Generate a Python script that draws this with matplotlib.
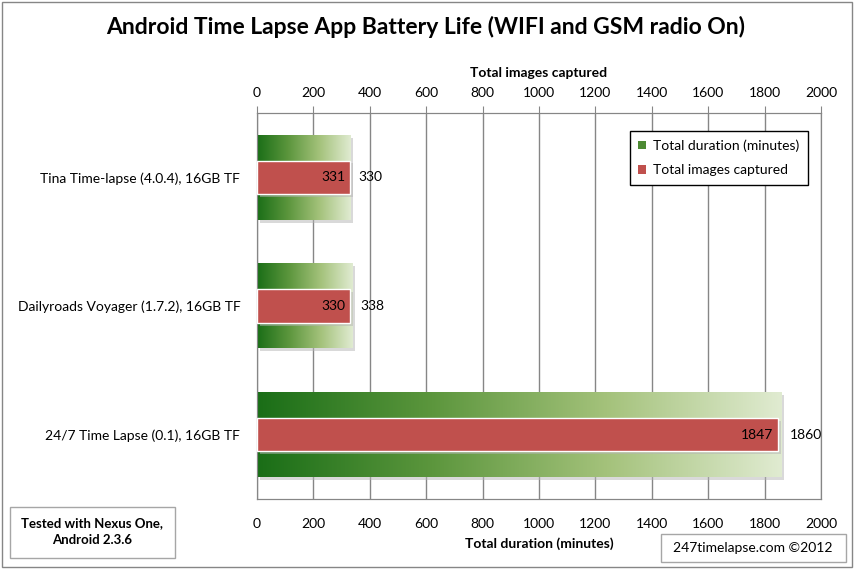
import matplotlib
matplotlib.use('Agg')
import matplotlib.pyplot as plt
import matplotlib.patheffects as pe
from matplotlib.colors import LinearSegmentedColormap
from matplotlib.patches import Rectangle, Patch
import numpy as np

plt.rcParams['font.family'] = ['Lato', 'DejaVu Sans']

apps = ['Tina Time-lapse (4.0.4), 16GB TF',
        'Dailyroads Voyager (1.7.2), 16GB TF',
        '24/7 Time Lapse (0.1), 16GB TF']
duration_min = [330, 338, 1860]
images_captured = [331, 330, 1847]
ticks = list(range(0, 2001, 200))

W, H = 855, 572
fig = plt.figure(figsize=(W / 100, H / 100), dpi=100)

# outer chart frame
fig.add_artist(Rectangle((2 / W, 1 - 567 / H), 850 / W, 565 / H, transform=fig.transFigure,
                         fill=False, edgecolor='#868686', linewidth=1))

ax = fig.add_axes([257 / W, 1 - 499 / H, (821 - 257) / W, (499 - 113) / H])
ax2 = ax.twiny()

green = LinearSegmentedColormap.from_list('grn', ['#1a6e17', '#5c963d', '#a4c27b', '#e0ebd1'])
grad = np.linspace(0, 1, 256).reshape(1, -1)
ypos = np.arange(len(apps))
shadow = [pe.SimplePatchShadow(offset=(2, -2), shadow_rgbFace='#b4b4b4', alpha=0.5), pe.Normal()]

# green duration bars (bottom axis)
gbars = ax.barh(ypos, duration_min, height=0.66, color='white', zorder=2, path_effects=shadow)
for b in gbars:
    x0, y0, w, h = b.get_x(), b.get_y(), b.get_width(), b.get_height()
    ax.imshow(grad, cmap=green, aspect='auto', extent=(x0, x0 + w, y0 + h, y0), zorder=3)
for y, v in zip(ypos, duration_min):
    ax.text(v + 28, y, f'{v}', va='center', ha='left', fontsize=10, color='black', zorder=6)

# red image bars (top axis)
rbars = ax2.barh(ypos, images_captured, height=0.26, color='#c0504d', edgecolor='white',
                 linewidth=1, zorder=4, path_effects=shadow)
for y, v in zip(ypos, images_captured):
    ax2.text(v - 18, y, f'{v}', va='center', ha='right', fontsize=10, color='black', zorder=6)

for a in (ax, ax2):
    a.set_xlim(0, 2000)
    a.set_ylim(2.5, -0.5)
    a.set_xticks(ticks)
    a.tick_params(axis='x', labelsize=10, colors='#868686', labelcolor='black', length=0, pad=14)
    for s in a.spines.values():
        s.set_color('#868686')
ax2.tick_params(axis='x', length=5, pad=5)

ax.set_yticks(ypos)
ax.set_yticklabels(apps, fontsize=10)
ax.tick_params(axis='y', length=0, pad=12)
ax.grid(axis='x', color='#868686', linewidth=1, zorder=0)
ax.set_axisbelow(True)

ax.set_xlabel('Total duration (minutes)', fontsize=10, fontweight='bold', labelpad=5)
ax2.set_xlabel('Total images captured', fontsize=10, fontweight='bold', labelpad=7)

fig.text(426 / W, 1 - 27 / H, 'Android Time Lapse App Battery Life (WIFI and GSM radio On)',
         ha='center', va='center', fontsize=16.5, fontweight='bold')

# legend
handles = [Patch(facecolor='#4d8a33', label='Total duration (minutes)'),
           Patch(facecolor='#c0504d', label='Total images captured')]
leg = ax2.legend(handles=handles, loc='upper right', bbox_to_anchor=(808 / W, 1 - 131 / H),
                 bbox_transform=fig.transFigure, borderaxespad=0, fancybox=False,
                 edgecolor='black', fontsize=10, handlelength=0.6, handleheight=0.6,
                 handletextpad=0.5, labelspacing=0.9, borderpad=0.6)
leg.get_frame().set_linewidth(1)
leg.get_frame().set_alpha(1)
leg.set_zorder(10)

# note boxes
fig.add_artist(Rectangle((10 / W, 1 - 558 / H), 165 / W, 51 / H, transform=fig.transFigure,
                         fill=False, edgecolor='#a6a6a6', linewidth=1))
fig.text(92 / W, 1 - 532 / H, 'Tested with Nexus One,\nAndroid 2.3.6', ha='center', va='center',
         fontsize=9.5, fontweight='bold', linespacing=1.5)
fig.add_artist(Rectangle((661 / W, 1 - 562 / H), 185 / W, 28 / H, transform=fig.transFigure,
                         fill=False, edgecolor='#a6a6a6', linewidth=1))
fig.text(753 / W, 1 - 548 / H, '247timelapse.com \u00a92012', ha='center', va='center', fontsize=10)

fig.savefig('out.png', dpi=100)
